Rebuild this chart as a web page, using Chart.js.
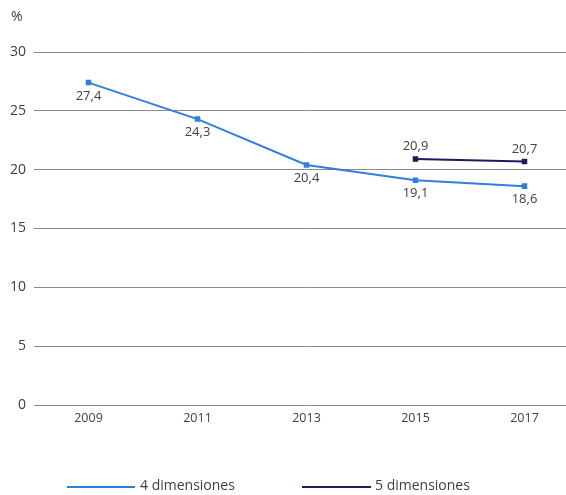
<!DOCTYPE html>
<html>
<head>
<meta charset="utf-8">
<script src="https://cdn.jsdelivr.net/npm/chart.js@4"></script>
<style>
  html, body { margin: 0; padding: 0; background: #fff; overflow: hidden; }
  #wrap { width: 566px; height: 495px; overflow: hidden; }
</style>
</head>
<body>
<div id="wrap"><canvas id="chart" width="585" height="495"></canvas></div>
<script>
// datos
const years = ["2009", "2011", "2013", "2015", "2017"];
const cuatroDim = [27.4, 24.3, 20.4, 19.1, 18.6];
const cincoDim = [null, null, null, 20.9, 20.7];
const yTicks = [0, 5, 10, 15, 20, 25, 30];

const textColor = "#404040";
const gridColor = "#8a8a8a";
const azul = "#2f7fdc";
const marino = "#1e1a5e";

// etiquetas de valores (abajo para la serie 1, arriba para la serie 2) + leyenda
const valueLabels = {
    id: "valueLabels",
    afterDatasetsDraw(chart) {
        const ctx = chart.ctx;
        ctx.save();
        ctx.font = "13px 'Open Sans'";
        ctx.fillStyle = textColor;
        ctx.textAlign = "center";
        chart.data.datasets.forEach((ds, i) => {
            const meta = chart.getDatasetMeta(i);
            meta.data.forEach((pt, j) => {
                const v = ds.data[j];
                if (v === null) return;
                const txt = v.toFixed(1).replace(".", ",");
                if (i === 0) {
                    ctx.textBaseline = "top";
                    ctx.fillText(txt, pt.x, pt.y + 7);
                } else {
                    ctx.textBaseline = "bottom";
                    ctx.fillText(txt, pt.x, pt.y - 6);
                }
            });
        });
        // simbolo de porcentaje
        ctx.textAlign = "left";
        ctx.textBaseline = "middle";
        ctx.font = "14px 'Open Sans'";
        ctx.fillText("%", 11, 17);

        // leyenda
        const items = [[67, 135, 140, chart.data.datasets[0]], [302, 371, 375, chart.data.datasets[1]]];
        items.forEach(([x1, x2, tx, ds]) => {
            ctx.strokeStyle = ds.borderColor;
            ctx.lineWidth = 2;
            ctx.beginPath();
            ctx.moveTo(x1, 487);
            ctx.lineTo(x2, 487);
            ctx.stroke();
            ctx.fillText(ds.label, tx, 486);
        });
        ctx.restore();
    }
};

const ctx = document.getElementById("chart").getContext("2d");
new Chart(ctx, {
    type: "line",
    data: {
        labels: years,
        datasets: [
            {
                label: "4 dimensiones",
                data: cuatroDim,
                borderColor: azul,
                backgroundColor: azul,
                borderWidth: 2,
                pointStyle: "rect",
                pointRadius: 2.5,
                tension: 0
            },
            {
                label: "5 dimensiones",
                data: cincoDim,
                borderColor: marino,
                backgroundColor: marino,
                borderWidth: 2,
                pointStyle: "rect",
                pointRadius: 2.5,
                tension: 0
            }
        ]
    },
    options: {
        responsive: false,
        animation: false,
        layout: { padding: { top: 52, left: 0, right: 0, bottom: 71 } },
        plugins: {
            legend: { display: false },
            tooltip: { enabled: false }
        },
        scales: {
            x: {
                offset: true,
                grid: { display: false },
                border: { display: false },
                ticks: { color: textColor, font: { family: "'Open Sans'", size: 12.5 }, padding: -2 }
            },
            y: {
                min: 0,
                max: 30,
                afterBuildTicks(axis) { axis.ticks = yTicks.map(v => ({ value: v })); },
                afterFit(axis) { axis.width = 34; },
                grid: { color: gridColor, drawTicks: false, lineWidth: 1 },
                border: { display: false },
                ticks: { color: textColor, font: { family: "'Open Sans'", size: 14 }, padding: 8 }
            }
        }
    },
    plugins: [valueLabels]
});
</script>
</body>
</html>
